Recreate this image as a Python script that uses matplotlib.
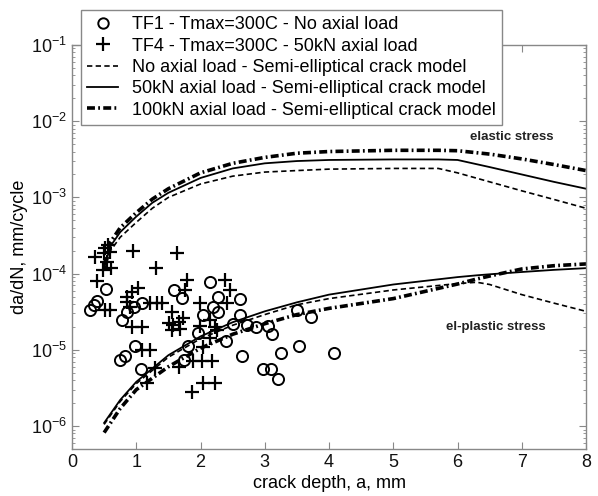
import matplotlib
matplotlib.use("Agg")
import matplotlib.pyplot as plt
import numpy as np
from matplotlib.lines import Line2D

plt.rcParams['font.family'] = ['Liberation Sans', 'DejaVu Sans']
plt.rcParams['mathtext.fontset'] = 'custom'
plt.rcParams['mathtext.rm'] = 'Liberation Sans'
plt.rcParams['mathtext.it'] = 'Liberation Sans:italic'
plt.rcParams['mathtext.bf'] = 'Liberation Sans:bold'

# ---- TF1 test data (circles) ----
tf1_a = [0.28, 0.34, 0.39, 0.53, 0.78, 0.86, 0.96, 1.09, 0.75, 0.83, 0.98, 1.07,
         1.59, 1.71, 2.15, 2.27, 2.19, 2.27, 2.04, 1.96, 1.81, 1.74, 2.61, 2.61,
         2.51, 2.72, 2.86, 3.05, 3.11, 2.40, 2.65, 3.50, 3.72, 3.25, 3.53, 4.08,
         2.97, 3.10, 3.21]
tf1_v = [3.3e-5, 3.9e-5, 4.4e-5, 6.3e-5, 2.5e-5, 3.1e-5, 3.6e-5, 4.1e-5, 7.3e-6, 8.2e-6, 1.12e-5, 5.6e-6,
         6.1e-5, 4.8e-5, 7.8e-5, 4.9e-5, 3.6e-5, 3.1e-5, 2.9e-5, 1.66e-5, 1.12e-5, 7.3e-6, 4.6e-5, 2.9e-5,
         2.2e-5, 2.1e-5, 2.0e-5, 2.05e-5, 1.6e-5, 1.3e-5, 8.3e-6, 3.3e-5, 2.7e-5, 9.1e-6, 1.12e-5, 9.1e-6,
         5.6e-6, 5.6e-6, 4.1e-6]

# ---- TF4 test data (crosses) ----
tf4_a = [0.36, 0.50, 0.51, 0.56, 0.59, 0.54, 0.61, 0.48, 0.39, 0.95, 1.31, 1.63,
         1.79, 1.76, 2.38, 2.46, 0.86, 0.93, 1.03, 0.51, 0.59, 0.86, 0.90, 1.21,
         1.32, 1.40, 1.56, 1.73, 1.51, 1.57, 1.56, 1.67, 1.68, 0.93, 1.09, 1.99,
         2.41, 1.99, 2.15, 2.23, 2.26, 2.15, 2.04, 1.09, 1.21, 1.17, 1.29, 1.67,
         1.88, 2.02, 2.18, 1.87, 2.04, 2.23]
tf4_v = [1.65e-4, 1.86e-4, 2.2e-4, 2.4e-4, 1.9e-4, 1.4e-4, 1.2e-4, 1.1e-4, 8.0e-5, 2.0e-4, 1.2e-4, 1.86e-4,
         8.2e-5, 6.1e-5, 8.2e-5, 6.1e-5, 4.9e-5, 5.7e-5, 6.5e-5, 3.3e-5, 3.3e-5, 4.2e-5, 3.6e-5, 4.1e-5,
         4.1e-5, 4.1e-5, 3.1e-5, 2.6e-5, 2.25e-5, 2.1e-5, 1.8e-5, 2.3e-5, 1.9e-5, 2.0e-5, 2.0e-5, 4.1e-5,
         4.1e-5, 2.05e-5, 2.5e-5, 2.0e-5, 1.8e-5, 1.43e-5, 1.09e-5, 1.0e-5, 1.0e-5, 3.7e-6, 5.8e-6, 6.0e-6,
         7.1e-6, 7.1e-6, 7.1e-6, 2.8e-6, 3.7e-6, 3.7e-6]

# ---- model curves, elastic stress ----
el_a = [0.5, 0.6, 0.75, 1.0, 1.25, 1.5, 2.0, 2.5, 3.0, 3.5, 4.0, 5.0, 5.7, 6.0, 6.5, 7.0, 7.5, 8.0]
el_none = [1.1e-4, 2.0e-4, 3.0e-4, 4.7e-4, 7.2e-4, 1.0e-3, 1.5e-3, 1.9e-3, 2.15e-3, 2.25e-3, 2.35e-3, 2.4e-3,
           2.4e-3, 2.1e-3, 1.6e-3, 1.22e-3, 9.4e-4, 7.2e-4]
el_50 = [1.2e-4, 2.3e-4, 3.5e-4, 5.6e-4, 8.5e-4, 1.15e-3, 1.8e-3, 2.4e-3, 2.8e-3, 3.0e-3, 3.1e-3, 3.15e-3,
         3.15e-3, 3.1e-3, 2.5e-3, 2.0e-3, 1.6e-3, 1.3e-3]
el_100 = [1.3e-4, 2.6e-4, 4.0e-4, 6.3e-4, 9.5e-4, 1.3e-3, 2.1e-3, 2.8e-3, 3.35e-3, 3.8e-3, 4.0e-3, 4.15e-3,
          4.15e-3, 4.1e-3, 3.7e-3, 3.2e-3, 2.7e-3, 2.25e-3]

# ---- model curves, elastic-plastic stress ----
pl_a = [0.5, 0.75, 1.0, 1.5, 2.0, 2.5, 3.0, 3.5, 4.0, 5.0, 6.0, 6.3, 6.5, 7.0, 7.5, 8.0]
pl_none = [1.05e-6, 2.1e-6, 3.6e-6, 8.0e-6, 1.4e-5, 2.1e-5, 2.9e-5, 3.9e-5, 4.7e-5, 6.1e-5, 7.4e-5, 7.7e-5,
           7.2e-5, 5.3e-5, 4.1e-5, 3.2e-5]
pl_50 = [1.1e-6, 2.2e-6, 3.8e-6, 8.5e-6, 1.5e-5, 2.3e-5, 3.2e-5, 4.2e-5, 5.3e-5, 7.2e-5, 9.0e-5, 9.5e-5,
         9.8e-5, 1.05e-4, 1.12e-4, 1.18e-4]
pl_100 = [8.2e-7, 1.7e-6, 3.0e-6, 6.0e-6, 1.05e-5, 1.6e-5, 2.2e-5, 2.9e-5, 3.5e-5, 4.7e-5, 7.3e-5, 8.5e-5,
          9.3e-5, 1.15e-4, 1.27e-4, 1.34e-4]

labels = ['TF1 - Tmax=300C - No axial load',
          'TF4 - Tmax=300C - 50kN axial load',
          'No axial load - Semi-elliptical crack model',
          '50kN axial load - Semi-elliptical crack model',
          '100kN axial load - Semi-elliptical crack model']

fig = plt.figure(figsize=(5.98, 4.96), dpi=100)
ax = fig.add_axes([0.1204, 0.0948, 0.8596, 0.8145])

dash_style = (0, (3.2, 2.0))
dd_style = (0, (2.2, 0.9, 0.5, 0.9))
edge_gray = '#888888'

ax.plot(el_a, el_none, color='k', lw=1.2, ls=dash_style)
ax.plot(el_a, el_50, color='k', lw=1.3, ls='-')
ax.plot(el_a, el_100, color='k', lw=2.6, ls=dd_style)
ax.plot(pl_a, pl_none, color='k', lw=1.2, ls=dash_style)
ax.plot(pl_a, pl_50, color='k', lw=1.3, ls='-')
ax.plot(pl_a, pl_100, color='k', lw=2.6, ls=dd_style)

ax.plot(tf1_a, tf1_v, ls='none', marker='o', ms=8, mfc='none', mec='k', mew=1.4)
ax.plot(tf4_a, tf4_v, ls='none', marker='+', ms=9.5, mec='k', mew=1.6)

ax.set_yscale('log')
ax.set_xlim(0, 8)
ax.set_ylim(5e-7, 1e-1)
ax.set_xticks(range(0, 9))
ax.tick_params(which='both', direction='in', top=True, right=True, color=edge_gray,
               labelsize=13, labelcolor='#111111')
ax.tick_params(which='major', length=5)
ax.tick_params(which='minor', length=2.5)
for sp in ax.spines.values():
    sp.set_color(edge_gray)
    sp.set_linewidth(1.0)

ax.set_xlabel('crack depth, a, mm', fontsize=13, labelpad=3)
ax.set_ylabel('da/dN, mm/cycle', fontsize=13, labelpad=2)

ax.text(6.85, 6.2e-3, 'elastic stress', fontsize=9.5, fontweight='bold', color='#222222',
        ha='center', va='center')
ax.text(6.6, 2.0e-5, 'el-plastic stress', fontsize=9.5, fontweight='bold', color='#222222',
        ha='center', va='center')

handles = [
    Line2D([], [], ls='none', marker='o', ms=7.5, mfc='none', mec='k', mew=1.4),
    Line2D([], [], ls='none', marker='+', ms=9.5, mec='k', mew=1.6),
    Line2D([], [], color='k', lw=1.2, ls=dash_style),
    Line2D([], [], color='k', lw=1.3, ls='-'),
    Line2D([], [], color='k', lw=2.6, ls=dd_style),
]
leg = fig.legend(handles, labels, loc='upper left', bbox_to_anchor=(81 / 598, 1 - 10 / 496),
                 bbox_transform=fig.transFigure, fontsize=13, frameon=True, fancybox=False,
                 edgecolor=edge_gray, framealpha=1, borderaxespad=0, labelspacing=0.24,
                 handlelength=1.7, handletextpad=0.75, borderpad=0.35)
leg.get_frame().set_linewidth(1.0)

fig.savefig('out.png', dpi=100)
